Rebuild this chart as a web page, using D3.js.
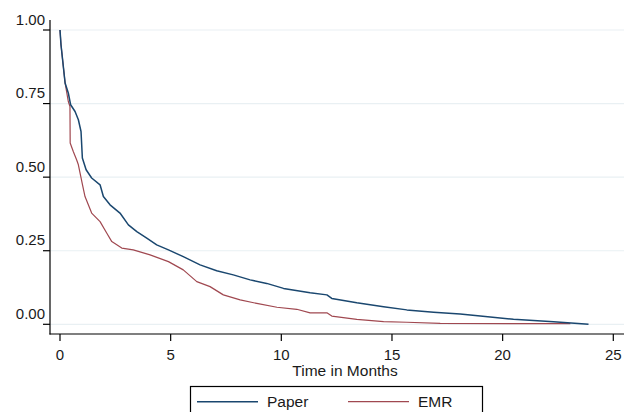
<!DOCTYPE html>
<html>
<head>
<meta charset="utf-8">
<script src="https://cdn.jsdelivr.net/npm/d3@7"></script>
<style>
  body { margin: 0; background: #fff; }
  svg { display: block; font-family: "Liberation Sans", Arial, sans-serif; }
</style>
</head>
<body>
<svg id="chart" width="635" height="412"></svg>
<script>
// axis ticks
const xTicks = [0, 5, 10, 15, 20, 25];
const yTicks = [0, 0.25, 0.5, 0.75, 1];

// survival curve, Paper (time in months, proportion)
const paperTime = [0, 0.045, 0.23, 0.375, 0.48, 0.68, 0.83, 0.95, 1.01, 1.18, 1.43, 1.81, 1.96, 2.26, 2.71, 3.09, 3.47, 3.92, 4.37, 4.9, 5.57, 6.33, 7.08, 7.83, 8.59, 9.34, 10.1, 11.3, 12.06, 12.28, 13.41, 14.62, 15.67, 16.88, 18.08, 18.99, 20.49, 22.3, 23.88];
const paperSurv = [1, 0.95, 0.82, 0.786, 0.746, 0.723, 0.695, 0.655, 0.565, 0.525, 0.497, 0.474, 0.434, 0.406, 0.378, 0.338, 0.315, 0.293, 0.27, 0.253, 0.23, 0.202, 0.182, 0.168, 0.151, 0.139, 0.122, 0.107, 0.1, 0.088, 0.073, 0.06, 0.049, 0.041, 0.035, 0.028, 0.017, 0.009, 0];

// survival curve, EMR
const emrTime = [0, 0.045, 0.23, 0.375, 0.45, 0.46, 0.6, 0.75, 0.83, 0.94, 1.01, 1.13, 1.43, 1.81, 2.11, 2.34, 2.79, 3.31, 4.07, 4.9, 5.57, 6.18, 6.78, 7.38, 8.14, 8.89, 9.8, 10.7, 11.3, 12.06, 12.28, 13.41, 14.62, 15.67, 17.18, 23.06];
const emrSurv = [1, 0.95, 0.82, 0.757, 0.74, 0.616, 0.587, 0.559, 0.542, 0.502, 0.476, 0.434, 0.378, 0.349, 0.31, 0.281, 0.259, 0.253, 0.236, 0.213, 0.185, 0.145, 0.128, 0.1, 0.083, 0.071, 0.058, 0.051, 0.039, 0.039, 0.028, 0.017, 0.009, 0.007, 0.003, 0.002];

const series = [
    { name: "Paper", color: "#1a476f", width: 1.5, t: paperTime, s: paperSurv },
    { name: "EMR", color: "#a04850", width: 1.2, t: emrTime, s: emrSurv },
];

const svg = d3.select("#chart");

// plot region edges
const plotLeft = 50, plotRight = 624, plotTop = 20, plotBottom = 334;

const x = d3.scaleLinear().domain([0, 25]).range([60, 613.3]);
const y = d3.scaleLinear().domain([0, 1]).range([324.3, 30]);

// gridlines
svg.append("g")
    .selectAll("line")
    .data(yTicks)
    .join("line")
    .attr("x1", plotLeft)
    .attr("x2", plotRight)
    .attr("y1", (d) => y(d))
    .attr("y2", (d) => y(d))
    .attr("stroke", "#e9f0f3")
    .attr("stroke-width", 1.2);

// curves
const line = d3.line().x((d) => x(d[0])).y((d) => y(d[1]));
svg.append("g")
    .selectAll("path")
    .data(series.slice().reverse())
    .join("path")
    .attr("d", (d) => line(d.t.map((t, i) => [t, d.s[i]])))
    .attr("fill", "none")
    .attr("stroke", (d) => d.color)
    .attr("stroke-width", (d) => d.width)
    .attr("stroke-linejoin", "round");

// y axis
const yAxis = svg.append("g");
yAxis.append("line")
    .attr("x1", plotLeft).attr("x2", plotLeft)
    .attr("y1", plotTop).attr("y2", plotBottom + 0.5)
    .attr("stroke", "#000").attr("stroke-width", 1.2);
yAxis.selectAll(".tk")
    .data(yTicks)
    .join("line")
    .attr("x1", plotLeft - 7).attr("x2", plotLeft)
    .attr("y1", (d) => y(d)).attr("y2", (d) => y(d))
    .attr("stroke", "#000").attr("stroke-width", 1.2);
yAxis.selectAll("text")
    .data(yTicks)
    .join("text")
    .attr("x", 45)
    .attr("y", (d) => y(d) - 5.5)
    .attr("text-anchor", "end")
    .attr("font-size", 15)
    .attr("fill", "#1a1a1a")
    .text((d) => d3.format(".2f")(d));

// x axis
const xAxis = svg.append("g");
xAxis.append("line")
    .attr("x1", plotLeft - 0.5).attr("x2", plotRight)
    .attr("y1", plotBottom).attr("y2", plotBottom)
    .attr("stroke", "#000").attr("stroke-width", 1.2);
xAxis.selectAll(".tk")
    .data(xTicks)
    .join("line")
    .attr("x1", (d) => x(d)).attr("x2", (d) => x(d))
    .attr("y1", plotBottom).attr("y2", plotBottom + 7)
    .attr("stroke", "#000").attr("stroke-width", 1.2);
xAxis.selectAll("text")
    .data(xTicks)
    .join("text")
    .attr("x", (d) => x(d))
    .attr("y", 359.5)
    .attr("text-anchor", "middle")
    .attr("font-size", 15)
    .attr("fill", "#1a1a1a")
    .text((d) => d);

svg.append("text")
    .attr("x", 345)
    .attr("y", 375.5)
    .attr("text-anchor", "middle")
    .attr("font-size", 15.5)
    .attr("fill", "#1a1a1a")
    .text("Time in Months");

// legend
const legend = svg.append("g");
legend.append("rect")
    .attr("x", 190.5).attr("y", 386.5)
    .attr("width", 292).attr("height", 40)
    .attr("fill", "#fff").attr("stroke", "#000").attr("stroke-width", 1.2);
const item = legend.selectAll(".item")
    .data(series)
    .join("g")
    .attr("transform", (d, i) => `translate(${197 + i * 151},0)`);
item.append("line")
    .attr("x1", 0).attr("x2", 61)
    .attr("y1", 401.7).attr("y2", 401.7)
    .attr("stroke", (d) => d.color)
    .attr("stroke-width", (d) => d.width);
item.append("text")
    .attr("x", 70)
    .attr("y", 406.5)
    .attr("font-size", 15.5)
    .attr("fill", "#1a1a1a")
    .text((d) => d.name);
</script>
</body>
</html>
